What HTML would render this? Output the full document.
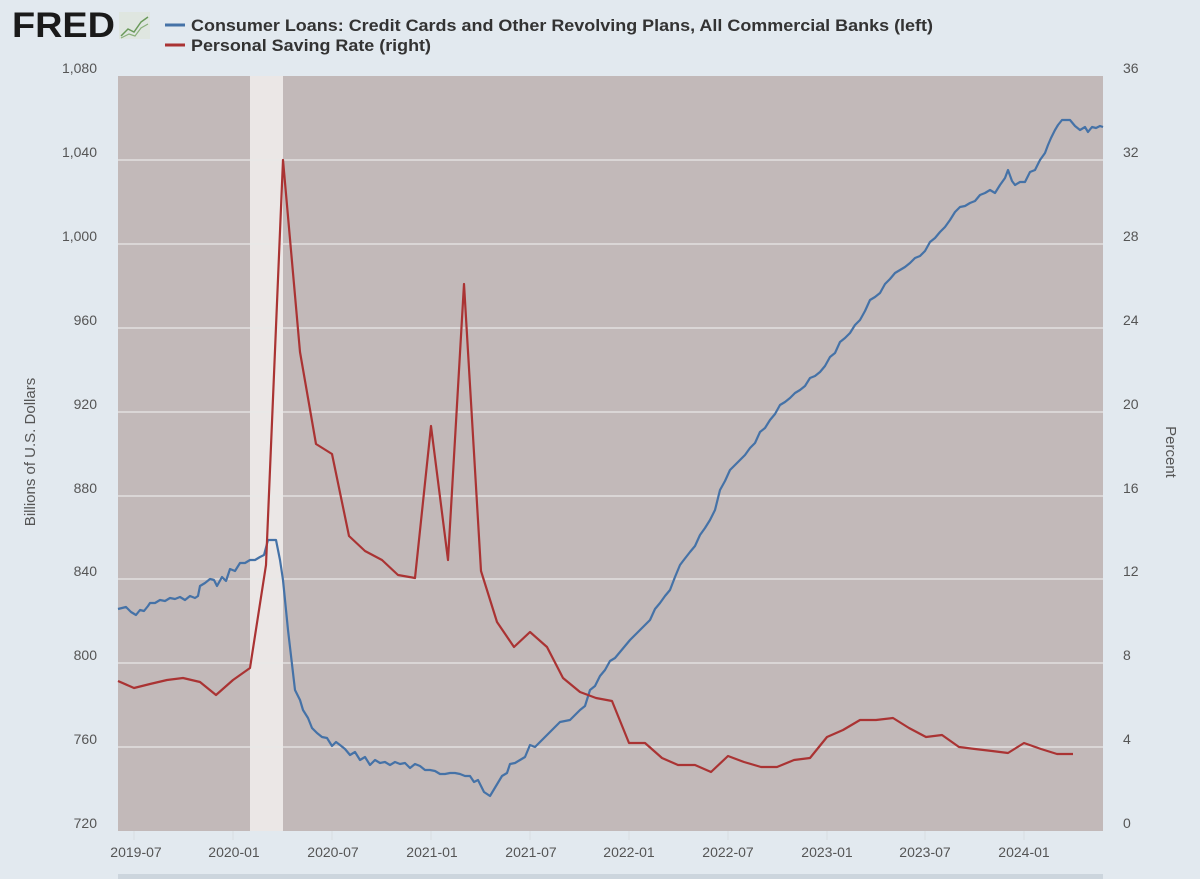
<!DOCTYPE html>
<html><head><meta charset="utf-8"><style>
html,body{margin:0;padding:0;background:#e2e9ef;}
svg{display:block;font-family:"Liberation Sans",sans-serif;}
</style></head><body>
<svg width="1200" height="879" viewBox="0 0 1200 879">
<rect width="1200" height="879" fill="#e2e9ef"/>
<text x="12" y="37" font-size="35" font-weight="bold" fill="#1a1a1a" textLength="103" lengthAdjust="spacingAndGlyphs">FRED</text>
<rect x="119" y="12" width="31" height="27" fill="#dfe6e0"/>
<polyline points="121,36 128,29 134,32 141,22 148,17" fill="none" stroke="#6a9a5a" stroke-width="1.5"/>
<polyline points="121,38 129,34 135,36 141,28 148,24" fill="none" stroke="#8ab07a" stroke-width="1.2"/>
<line x1="165" y1="25" x2="185" y2="25" stroke="#4572a7" stroke-width="3"/>
<line x1="165" y1="45" x2="185" y2="45" stroke="#aa3333" stroke-width="3"/>
<text x="191" y="31" font-size="17" font-weight="bold" fill="#333" textLength="742" lengthAdjust="spacingAndGlyphs">Consumer Loans: Credit Cards and Other Revolving Plans, All Commercial Banks (left)</text>
<text x="191" y="51" font-size="17" font-weight="bold" fill="#333" textLength="240" lengthAdjust="spacingAndGlyphs">Personal Saving Rate (right)</text>
<rect x="118" y="76" width="985" height="755" fill="#c2b9b9"/>
<rect x="250" y="76" width="33" height="755" fill="#ebe7e6"/>
<g stroke="#e8e8e8" stroke-width="1.3">
<line x1="118" x2="1103" y1="160" y2="160"/><line x1="118" x2="1103" y1="244" y2="244"/>
<line x1="118" x2="1103" y1="328" y2="328"/><line x1="118" x2="1103" y1="412" y2="412"/>
<line x1="118" x2="1103" y1="496" y2="496"/><line x1="118" x2="1103" y1="579" y2="579"/>
<line x1="118" x2="1103" y1="663" y2="663"/><line x1="118" x2="1103" y1="747" y2="747"/>
</g>
<g stroke="#d8dde2" stroke-width="1">
<line x1="134" x2="134" y1="831" y2="840"/><line x1="233" x2="233" y1="831" y2="840"/><line x1="332" x2="332" y1="831" y2="840"/><line x1="431" x2="431" y1="831" y2="840"/><line x1="530" x2="530" y1="831" y2="840"/><line x1="629" x2="629" y1="831" y2="840"/><line x1="728" x2="728" y1="831" y2="840"/><line x1="827" x2="827" y1="831" y2="840"/><line x1="925" x2="925" y1="831" y2="840"/><line x1="1024" x2="1024" y1="831" y2="840"/>
</g>
<g font-size="14" fill="#555" text-anchor="end">
<text x="97" y="73">1,080</text><text x="97" y="157">1,040</text><text x="97" y="241">1,000</text><text x="97" y="325">960</text><text x="97" y="409">920</text><text x="97" y="493">880</text><text x="97" y="576">840</text><text x="97" y="660">800</text><text x="97" y="744">760</text><text x="97" y="828">720</text>
</g>
<g font-size="14" fill="#555" text-anchor="start">
<text x="1123" y="73">36</text><text x="1123" y="157">32</text><text x="1123" y="241">28</text><text x="1123" y="325">24</text><text x="1123" y="409">20</text><text x="1123" y="493">16</text><text x="1123" y="576">12</text><text x="1123" y="660">8</text><text x="1123" y="744">4</text><text x="1123" y="828">0</text>
</g>
<g font-size="14" fill="#555" text-anchor="middle">
<text x="136" y="857">2019-07</text><text x="234" y="857">2020-01</text><text x="333" y="857">2020-07</text><text x="432" y="857">2021-01</text><text x="531" y="857">2021-07</text><text x="629" y="857">2022-01</text><text x="728" y="857">2022-07</text><text x="827" y="857">2023-01</text><text x="925" y="857">2023-07</text><text x="1024" y="857">2024-01</text>
</g>
<text transform="translate(35,452) rotate(-90)" font-size="15" fill="#555" text-anchor="middle">Billions of U.S. Dollars</text>
<text transform="translate(1166,452) rotate(90)" font-size="15" fill="#555" text-anchor="middle">Percent</text>
<rect x="118" y="874" width="985" height="5" fill="#ccd5dd"/>
<polyline fill="none" stroke="#4572a7" stroke-width="2.2" stroke-linejoin="round" points="118,609 122,608 126,607 131,612 136,615 140,610 144,611 148,606 150,603 155,603 160,600 165,601 170,598 175,599 180,597 185,600 190,596 195,598 198,596 200,586 205,583 210,579 214,580 217,586 222,577 226,581 230,569 235,571 240,563 245,563 250,560 255,560 260,557 264,555 268,540 276,540 280,560 283,580 288,630 295,690 300,700 303,710 308,718 312,728 317,733 322,737 327,738 332,746 336,742 340,745 345,749 350,755 355,752 360,760 365,757 370,765 375,760 380,763 385,762 390,765 395,762 400,764 405,763 410,768 415,764 420,766 425,770 430,770 435,771 440,774 445,774 450,773 455,773 460,774 465,776 470,776 474,782 478,780 484,792 490,796 496,786 502,776 507,773 510,764 515,763 520,760 525,757 530,745 535,747 540,742 545,737 550,732 555,727 560,722 565,721 570,720 575,715 580,710 585,706 590,690 595,686 600,676 605,670 610,661 615,658 620,652 625,646 630,640 635,635 640,630 645,625 650,620 655,609 660,603 665,596 670,590 675,577 680,565 683,561 690,552 695,546 700,535 705,528 710,520 715,510 720,490 725,481 730,470 735,465 740,460 745,455 750,448 755,443 760,432 765,428 770,420 775,414 780,405 785,402 790,398 795,393 800,390 805,386 810,378 815,376 820,372 825,366 830,357 835,353 840,342 845,338 850,333 855,325 860,320 865,311 870,300 875,297 880,293 885,284 890,279 895,273 900,270 905,267 910,263 915,258 920,256 925,251 930,242 935,238 940,232 945,227 950,220 955,212 960,207 965,206 970,203 975,201 980,195 985,193 990,190 995,193 1000,185 1005,178 1008,170 1012,181 1015,185 1020,182 1025,182 1030,172 1035,170 1040,160 1045,153 1048,145 1051,138 1055,130 1058,125 1062,120 1066,120 1070,120 1075,126 1080,130 1085,127 1088,132 1092,127 1096,128 1100,126 1103,127"/>
<polyline fill="none" stroke="#aa3333" stroke-width="2.2" stroke-linejoin="round" points="118,681 134,688 150,684 167,680 183,678 200,682 216,695 233,680 250,668 266,565 283,160 300,352 316,444 332,454 349,536 365,551 382,560 398,575 415,578 431,426 448,560 464,284 481,571 497,622 514,647 530,632 547,647 563,678 580,692 596,698 612,701 629,743 645,743 662,758 678,765 695,765 711,772 728,756 744,762 761,767 777,767 794,760 810,758 827,737 843,730 860,720 876,720 893,718 909,728 926,737 942,735 959,747 975,749 992,751 1008,753 1024,743 1041,749 1057,754 1073,754"/>
</svg>
</body></html>
